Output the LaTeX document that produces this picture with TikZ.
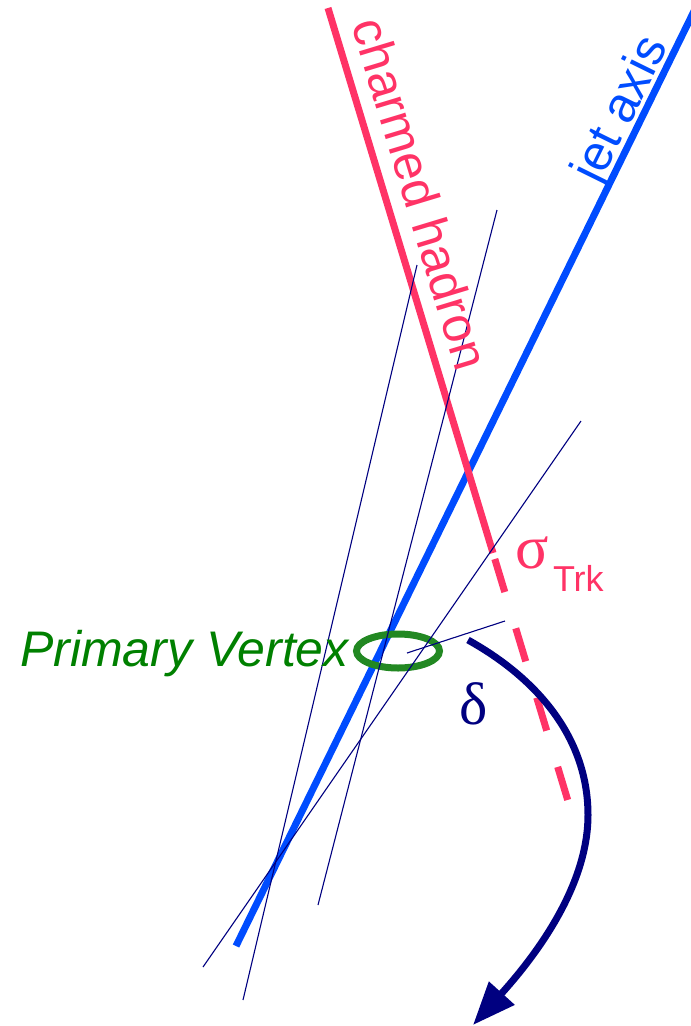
\documentclass[tikz,border=0pt]{standalone}
\usepackage{fontspec}
\setmainfont{Liberation Sans}
\newfontfamily\greekfont{Liberation Serif}
\usetikzlibrary{arrows.meta}
\definecolor{hadron}{RGB}{255,51,102}
\definecolor{jetblue}{RGB}{0,76,255}
\definecolor{vtxgreen}{RGB}{0,128,0}
\definecolor{ringgreen}{RGB}{34,136,34}
\definecolor{trknavy}{RGB}{0,0,128}
\begin{document}
\begin{tikzpicture}[x=1pt,y=-1pt,
  thinline/.style={draw=trknavy, line width=1.1pt},
  thickline/.style={line width=7pt, line cap=butt},
  lbl/.style={inner sep=0pt, outer sep=0pt}]
\useasboundingbox (0,0) rectangle (691,1026);
% track lines
\coordinate (a1) at (497,210); \coordinate (a2) at (318,905);
\coordinate (b1) at (417,265); \coordinate (b2) at (243,1000);
\coordinate (c1) at (581,421); \coordinate (c2) at (203,967);
\coordinate (d1) at (407,653); \coordinate (d2) at (505,621);
% jet axis
\coordinate (j1) at (236,946); \coordinate (j2) at (698,3);
\draw[thickline, draw=jetblue] (j1) -- (j2);
% charmed hadron
\coordinate (h1) at (328,8); \coordinate (h2) at (493,553);
\coordinate (h3) at (494.8,559); \coordinate (h4) at (568,801);
\draw[thickline, draw=hadron] (h1) -- (h2);
\draw[thickline, draw=hadron, dash pattern=on 34.5pt off 37.9pt] (h3) -- (h4);
% primary vertex ring
\coordinate (pv) at (398,651);
\draw[draw=ringgreen, line width=7pt] (pv) ellipse [x radius=41.5, y radius=17];
\draw[thinline] (a1) -- (a2);
\draw[thinline] (b1) -- (b2);
\draw[thinline] (c1) -- (c2);
\draw[thinline] (d1) -- (d2);
% delta arrow
\coordinate (s0) at (468,640); \coordinate (s1) at (588,815); \coordinate (s2) at (473,1025);
\draw[draw=trknavy, line width=7pt, line cap=butt, -{Triangle[length=43pt,width=33pt]}]
  (s0) .. controls (540,680) and (588,740) .. (s1)
  .. controls (588,890) and (530,962) .. (s2);
% labels
\node[lbl, anchor=base, rotate=-73.15, text=hadron, font=\fontsize{50}{60}\selectfont] (hl) at (404,199) {charmed hadron};
\node[lbl, anchor=base, rotate=63.8, text=jetblue, font=\fontsize{50}{60}\selectfont] (jl) at (634,116) {jet axis};
\node[lbl, anchor=base west, text=vtxgreen, font=\fontsize{50}{60}\selectfont\itshape] (pvl) at (20,666) {Primary Vertex};
\node[lbl, anchor=base west, text=hadron, font=\fontsize{62}{72}\selectfont\greekfont] (sig) at (515,568) {σ};
\node[lbl, anchor=base west, text=hadron, font=\fontsize{36}{44}\selectfont] (trk) at (553,591) {Trk};
\node[lbl, anchor=base west, text=trknavy, font=\fontsize{60}{70}\selectfont\greekfont] (del) at (459,724) {δ};
\end{tikzpicture}
\end{document}
